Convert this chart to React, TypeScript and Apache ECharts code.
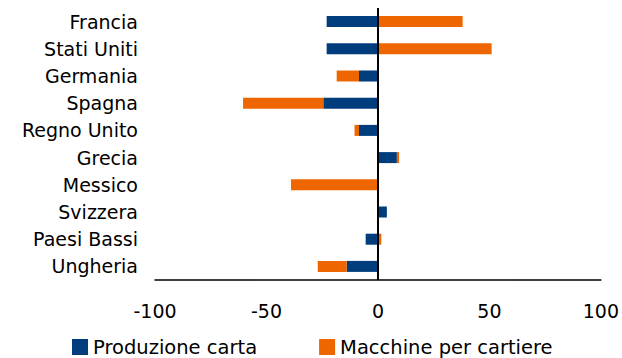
import React, { useEffect, useRef } from "react";
import * as echarts from "echarts";

const countries = [
  "Francia",
  "Stati Uniti",
  "Germania",
  "Spagna",
  "Regno Unito",
  "Grecia",
  "Messico",
  "Svizzera",
  "Paesi Bassi",
  "Ungheria",
];
const produzioneCarta = [-23, -23, -8.5, -24.5, -8.5, 8.5, 0, 4, -5.5, -14];
const macchinePerCartiere = [38, 51, -10, -36, -2, 1, -39, 0, 1.5, -13];
const xTicks = { min: -100, max: 100, step: 50 };

const FONT = "'DejaVu Sans', sans-serif";

export default function App() {
  const ref = useRef<HTMLDivElement>(null);

  useEffect(() => {
    document.body.style.margin = "0";
    if (!ref.current) return;
    const chart = echarts.init(ref.current, null, { renderer: "svg" });
    chart.setOption({
      animation: false,
      grid: { left: 155, right: 20, top: 8, bottom: 78, containLabel: false },
      legend: {
        left: 72,
        top: 337,
        padding: 0,
        itemWidth: 16,
        itemHeight: 16,
        itemGap: 62,
        icon: "rect",
        textStyle: { fontFamily: FONT, fontSize: 19.5, color: "#000", lineHeight: 19 },
        data: ["Produzione carta", "Macchine per cartiere"],
      },
      xAxis: {
        type: "value",
        min: xTicks.min,
        max: xTicks.max,
        interval: xTicks.step,
        axisLine: { show: true, onZero: false, lineStyle: { color: "#000", width: 1.5 } },
        axisTick: { show: false },
        splitLine: { show: false },
        axisLabel: { fontFamily: FONT, fontSize: 19, color: "#000", margin: 21 },
      },
      yAxis: {
        type: "category",
        data: countries,
        inverse: true,
        axisLine: { show: false },
        axisTick: { show: false },
        axisLabel: { fontFamily: FONT, fontSize: 19, color: "#000", margin: 17 },
      },
      series: [
        {
          name: "Produzione carta",
          type: "bar",
          stack: "tot",
          barWidth: 11,
          itemStyle: { color: "#003D7C" },
          data: produzioneCarta,
          markLine: {
            silent: true,
            symbol: "none",
            label: { show: false },
            lineStyle: { color: "#000", width: 2, type: "solid" },
            data: [{ xAxis: 0 }],
          },
        },
        {
          name: "Macchine per cartiere",
          type: "bar",
          stack: "tot",
          barWidth: 11,
          itemStyle: { color: "#EE6600" },
          data: macchinePerCartiere,
        },
      ],
    });
    return () => chart.dispose();
  }, []);

  return <div ref={ref} style={{ width: 622, height: 358 }} />;
}
